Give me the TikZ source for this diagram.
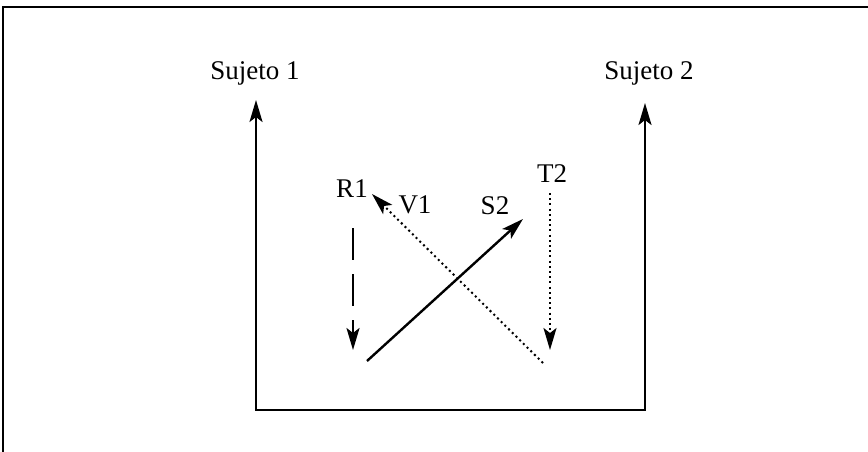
\documentclass[tikz,border=0pt]{standalone}
\usepackage{fontspec}
\setmainfont{Liberation Serif}
\usetikzlibrary{arrows.meta}

\begin{document}
\begin{tikzpicture}[x=1pt,y=-1pt,>={Stealth[length=22pt,width=13pt,inset=5pt]},
    line width=2.4pt,font=\fontsize{27}{31}\selectfont,
    lab/.style={anchor=base,inner sep=0pt},
    dots/.style={line width=2pt,dash pattern=on 2pt off 3.2pt}]
    \useasboundingbox (0,0) rectangle (868,452);

    % marco
    \draw (3,452) -- (3,7) -- (868,7);

    % sujetos
    \node[lab] (suj1) at (255,80) {Sujeto 1};
    \node[lab] (suj2) at (649,80) {Sujeto 2};
    \coordinate (s1) at (256,100);
    \coordinate (s2) at (645,103);
    \coordinate (bl) at (256,410);
    \coordinate (br) at (645,410);
    \draw[<->] (s1) -- (bl) -- (br) -- (s2);

    % etiquetas
    \node[lab] (r1) at (352,197) {R1};
    \node[lab] (v1) at (415,213) {V1};
    \node[lab] (sdos) at (495,214) {S2};
    \node[lab] (tdos) at (552,182) {T2};

    % R1: discontinua
    \coordinate (rA) at (353,228);
    \coordinate (rB) at (353,350);
    \draw[->,dash pattern=on 32pt off 14pt] (rA) -- (rB);

    % S2: continua
    \coordinate (sA) at (367,361);
    \coordinate (sB) at (523,219);
    \draw[->] (sA) -- (sB);

    % V1: punteada diagonal
    \coordinate (vA) at (543,363);
    \coordinate (vB) at (372,194);
    \draw[->,dots] (vA) -- (vB);

    % T2: punteada vertical
    \coordinate (tA) at (550,193);
    \coordinate (tB) at (550,350);
    \draw[->,dots] (tA) -- (tB);
\end{tikzpicture}
\end{document}
